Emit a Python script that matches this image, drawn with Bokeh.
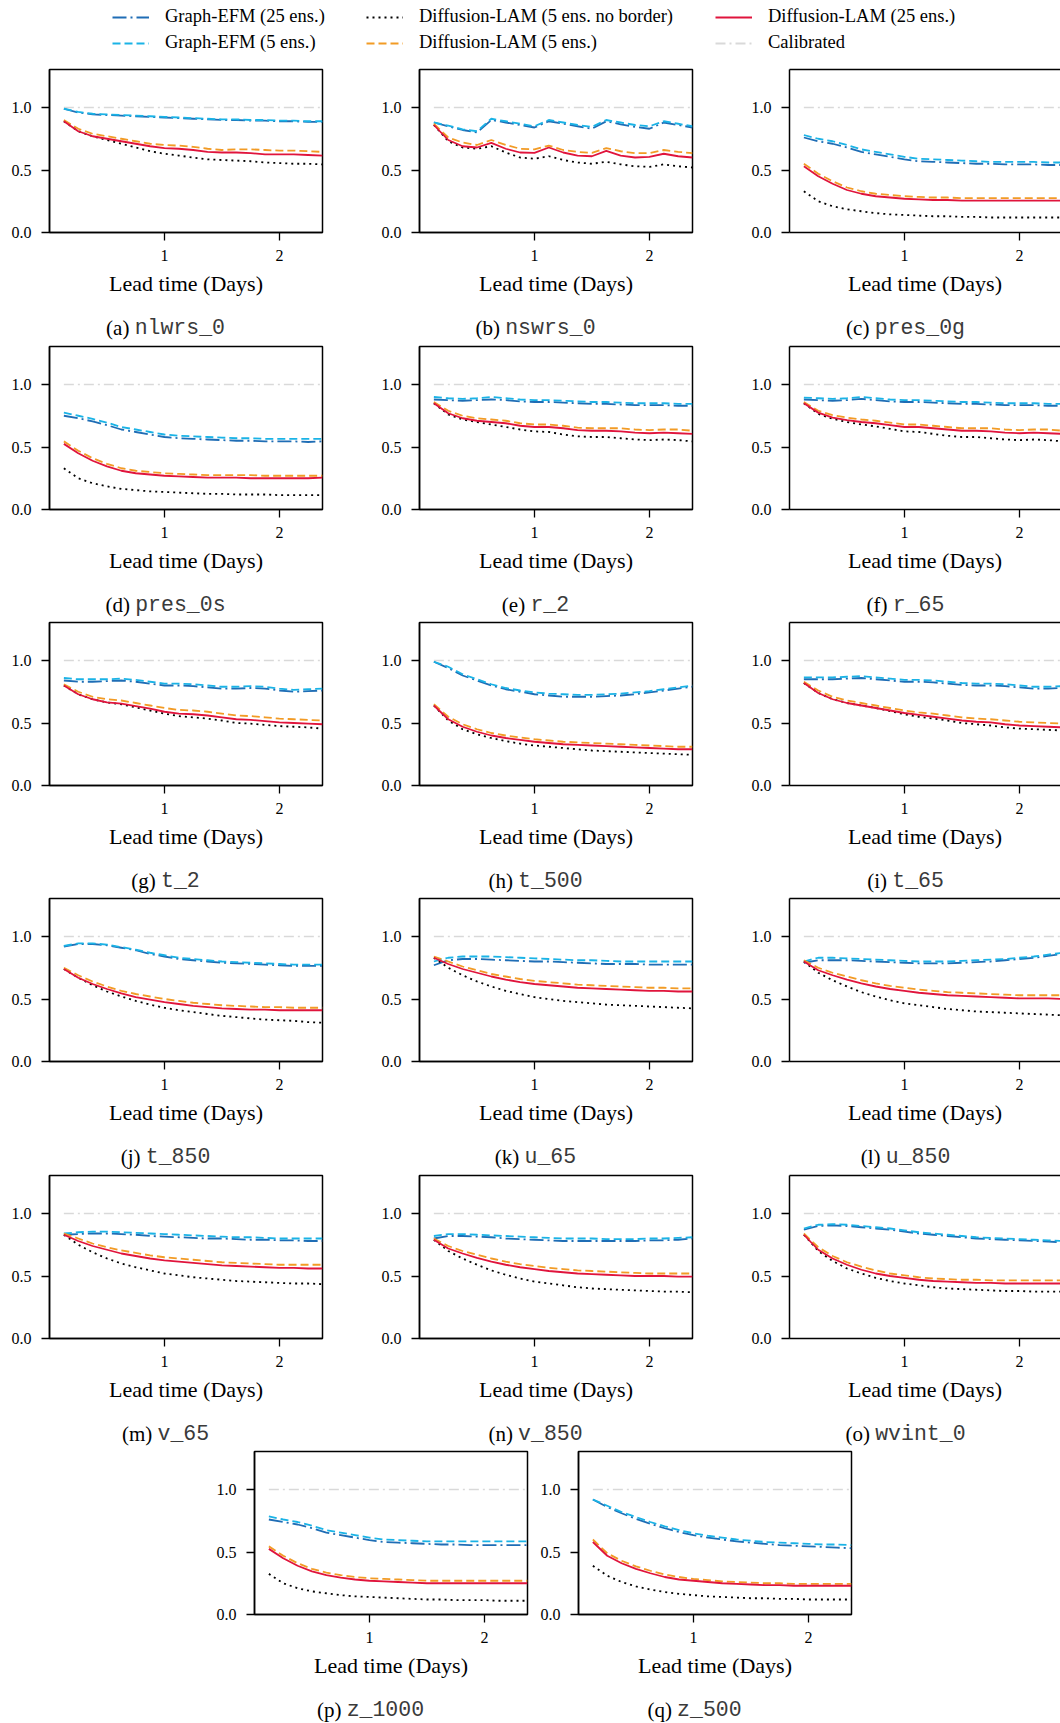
from bokeh.plotting import figure
from bokeh.models import (Range1d, FixedTicker, NumeralTickFormatter, Label,
                          Legend, LegendItem, LinearAxis, Spacer)
from bokeh.layouts import column, row
from bokeh.embed import file_html
from bokeh.resources import INLINE

# ---------------- data ----------------
lead_time_days = [0.125, 0.25, 0.375, 0.5, 0.625, 0.75, 0.875, 1.0, 1.125, 1.25,
                  1.375, 1.5, 1.625, 1.75, 1.875, 2.0, 2.125, 2.25, 2.375]
calibrated = [1.0, 1.0, 1.0, 1.0, 1.0, 1.0, 1.0, 1.0, 1.0, 1.0,
              1.0, 1.0, 1.0, 1.0, 1.0, 1.0, 1.0, 1.0, 1.0]

# (a) nlwrs_0
ge25_nlwrs_0 = [0.99, 0.96, 0.945, 0.94, 0.935, 0.93, 0.925, 0.92, 0.915, 0.91, 0.905, 0.90, 0.90, 0.895, 0.895, 0.89, 0.89, 0.885, 0.885]
ge5_nlwrs_0 = [0.99, 0.965, 0.95, 0.945, 0.94, 0.935, 0.93, 0.925, 0.92, 0.915, 0.91, 0.905, 0.905, 0.90, 0.90, 0.895, 0.895, 0.89, 0.89]
dlnb_nlwrs_0 = [0.89, 0.81, 0.77, 0.74, 0.71, 0.68, 0.65, 0.63, 0.615, 0.60, 0.585, 0.58, 0.575, 0.57, 0.56, 0.555, 0.55, 0.55, 0.545]
dl5_nlwrs_0 = [0.90, 0.83, 0.79, 0.77, 0.75, 0.73, 0.71, 0.70, 0.695, 0.685, 0.67, 0.66, 0.665, 0.665, 0.66, 0.655, 0.655, 0.65, 0.645]
dl25_nlwrs_0 = [0.89, 0.81, 0.77, 0.75, 0.73, 0.71, 0.69, 0.675, 0.67, 0.66, 0.645, 0.64, 0.64, 0.635, 0.625, 0.625, 0.625, 0.62, 0.615]

# (b) nswrs_0
ge25_nswrs_0 = [0.88, 0.85, 0.82, 0.80, 0.90, 0.88, 0.86, 0.84, 0.89, 0.87, 0.85, 0.83, 0.89, 0.865, 0.845, 0.83, 0.88, 0.86, 0.84]
ge5_nswrs_0 = [0.88, 0.855, 0.825, 0.81, 0.91, 0.89, 0.87, 0.85, 0.90, 0.88, 0.86, 0.845, 0.90, 0.88, 0.86, 0.85, 0.89, 0.87, 0.85]
dlnb_nswrs_0 = [0.86, 0.73, 0.68, 0.67, 0.69, 0.64, 0.60, 0.59, 0.61, 0.58, 0.56, 0.55, 0.565, 0.545, 0.53, 0.525, 0.545, 0.53, 0.52]
dl5_nswrs_0 = [0.87, 0.76, 0.72, 0.70, 0.74, 0.70, 0.67, 0.665, 0.695, 0.66, 0.645, 0.637, 0.675, 0.65, 0.635, 0.635, 0.66, 0.645, 0.635]
dl25_nswrs_0 = [0.86, 0.74, 0.69, 0.68, 0.717, 0.67, 0.64, 0.637, 0.68, 0.64, 0.615, 0.61, 0.653, 0.615, 0.60, 0.605, 0.63, 0.61, 0.60]

# (c) pres_0g
ge25_pres_0g = [0.76, 0.73, 0.71, 0.68, 0.645, 0.625, 0.605, 0.585, 0.57, 0.565, 0.56, 0.555, 0.55, 0.55, 0.545, 0.545, 0.545, 0.54, 0.54]
ge5_pres_0g = [0.78, 0.75, 0.73, 0.70, 0.665, 0.645, 0.625, 0.605, 0.59, 0.585, 0.58, 0.575, 0.57, 0.565, 0.565, 0.565, 0.565, 0.56, 0.56]
dlnb_pres_0g = [0.33, 0.25, 0.21, 0.185, 0.17, 0.155, 0.145, 0.14, 0.135, 0.13, 0.13, 0.125, 0.125, 0.12, 0.12, 0.12, 0.12, 0.12, 0.12]
dl5_pres_0g = [0.55, 0.47, 0.41, 0.36, 0.33, 0.31, 0.30, 0.29, 0.285, 0.28, 0.28, 0.275, 0.275, 0.275, 0.275, 0.275, 0.275, 0.275, 0.275]
dl25_pres_0g = [0.53, 0.45, 0.39, 0.34, 0.31, 0.29, 0.28, 0.27, 0.265, 0.26, 0.26, 0.255, 0.255, 0.255, 0.255, 0.255, 0.255, 0.255, 0.255]

# (d) pres_0s
ge25_pres_0s = [0.75, 0.73, 0.705, 0.675, 0.64, 0.62, 0.60, 0.58, 0.57, 0.565, 0.56, 0.555, 0.55, 0.55, 0.545, 0.545, 0.545, 0.54, 0.545]
ge5_pres_0s = [0.775, 0.75, 0.725, 0.695, 0.66, 0.64, 0.62, 0.60, 0.59, 0.585, 0.58, 0.575, 0.57, 0.57, 0.565, 0.565, 0.565, 0.565, 0.565]
dlnb_pres_0s = [0.33, 0.25, 0.21, 0.185, 0.165, 0.155, 0.145, 0.14, 0.135, 0.13, 0.125, 0.125, 0.12, 0.12, 0.12, 0.115, 0.115, 0.115, 0.115]
dl5_pres_0s = [0.545, 0.47, 0.41, 0.365, 0.33, 0.31, 0.30, 0.29, 0.285, 0.28, 0.275, 0.275, 0.275, 0.275, 0.27, 0.27, 0.27, 0.27, 0.27]
dl25_pres_0s = [0.525, 0.45, 0.39, 0.345, 0.31, 0.29, 0.28, 0.27, 0.265, 0.26, 0.255, 0.255, 0.255, 0.25, 0.25, 0.25, 0.25, 0.25, 0.255]

# (e) r_2
ge25_r_2 = [0.88, 0.875, 0.87, 0.875, 0.88, 0.875, 0.865, 0.86, 0.86, 0.855, 0.85, 0.845, 0.845, 0.84, 0.835, 0.835, 0.835, 0.83, 0.83]
ge5_r_2 = [0.90, 0.89, 0.885, 0.89, 0.90, 0.89, 0.88, 0.875, 0.875, 0.87, 0.865, 0.86, 0.86, 0.855, 0.85, 0.85, 0.85, 0.845, 0.845]
dlnb_r_2 = [0.85, 0.76, 0.72, 0.70, 0.68, 0.66, 0.64, 0.625, 0.62, 0.60, 0.585, 0.58, 0.58, 0.57, 0.56, 0.555, 0.56, 0.555, 0.545]
dl5_r_2 = [0.86, 0.79, 0.75, 0.73, 0.72, 0.71, 0.69, 0.68, 0.68, 0.67, 0.655, 0.65, 0.65, 0.65, 0.64, 0.635, 0.64, 0.64, 0.63]
dl25_r_2 = [0.85, 0.77, 0.73, 0.71, 0.70, 0.69, 0.67, 0.66, 0.66, 0.65, 0.635, 0.63, 0.63, 0.625, 0.615, 0.61, 0.615, 0.61, 0.605]

# (f) r_65
ge25_r_65 = [0.88, 0.875, 0.87, 0.875, 0.885, 0.875, 0.865, 0.86, 0.86, 0.855, 0.85, 0.845, 0.845, 0.84, 0.835, 0.835, 0.835, 0.83, 0.83]
ge5_r_65 = [0.895, 0.89, 0.885, 0.89, 0.90, 0.89, 0.88, 0.875, 0.875, 0.87, 0.865, 0.86, 0.86, 0.855, 0.85, 0.85, 0.85, 0.845, 0.845]
dlnb_r_65 = [0.85, 0.765, 0.725, 0.70, 0.68, 0.665, 0.645, 0.625, 0.62, 0.605, 0.59, 0.58, 0.58, 0.57, 0.56, 0.555, 0.56, 0.555, 0.545]
dl5_r_65 = [0.86, 0.79, 0.755, 0.735, 0.72, 0.71, 0.695, 0.68, 0.68, 0.67, 0.66, 0.65, 0.65, 0.65, 0.64, 0.635, 0.64, 0.64, 0.63]
dl25_r_65 = [0.85, 0.775, 0.735, 0.715, 0.70, 0.69, 0.675, 0.66, 0.66, 0.65, 0.64, 0.63, 0.63, 0.625, 0.615, 0.61, 0.615, 0.61, 0.605]

# (g) t_2
ge25_t_2 = [0.84, 0.83, 0.83, 0.835, 0.84, 0.83, 0.815, 0.80, 0.80, 0.795, 0.785, 0.775, 0.775, 0.78, 0.775, 0.76, 0.75, 0.755, 0.76]
ge5_t_2 = [0.86, 0.85, 0.85, 0.85, 0.855, 0.845, 0.83, 0.815, 0.815, 0.81, 0.80, 0.79, 0.79, 0.795, 0.79, 0.775, 0.765, 0.77, 0.775]
dlnb_t_2 = [0.80, 0.73, 0.69, 0.665, 0.65, 0.625, 0.60, 0.575, 0.555, 0.545, 0.535, 0.52, 0.50, 0.495, 0.485, 0.475, 0.47, 0.465, 0.455]
dl5_t_2 = [0.81, 0.75, 0.71, 0.69, 0.68, 0.66, 0.64, 0.62, 0.605, 0.60, 0.59, 0.575, 0.56, 0.555, 0.545, 0.535, 0.53, 0.525, 0.52]
dl25_t_2 = [0.80, 0.73, 0.69, 0.665, 0.655, 0.635, 0.615, 0.59, 0.575, 0.57, 0.56, 0.545, 0.53, 0.525, 0.515, 0.505, 0.50, 0.495, 0.49]

# (h) t_500
ge25_t_500 = [0.99, 0.94, 0.88, 0.84, 0.80, 0.77, 0.75, 0.73, 0.72, 0.71, 0.71, 0.71, 0.715, 0.72, 0.73, 0.745, 0.76, 0.775, 0.79]
ge5_t_500 = [0.99, 0.95, 0.89, 0.85, 0.81, 0.78, 0.76, 0.745, 0.735, 0.73, 0.725, 0.725, 0.73, 0.735, 0.745, 0.755, 0.77, 0.785, 0.80]
dlnb_t_500 = [0.64, 0.52, 0.45, 0.41, 0.38, 0.355, 0.335, 0.32, 0.31, 0.30, 0.29, 0.28, 0.275, 0.27, 0.265, 0.26, 0.255, 0.25, 0.245]
dl5_t_500 = [0.65, 0.55, 0.49, 0.45, 0.42, 0.40, 0.385, 0.37, 0.36, 0.35, 0.345, 0.34, 0.335, 0.33, 0.325, 0.32, 0.315, 0.31, 0.31]
dl25_t_500 = [0.64, 0.53, 0.47, 0.43, 0.40, 0.38, 0.365, 0.35, 0.34, 0.33, 0.325, 0.32, 0.315, 0.31, 0.305, 0.30, 0.295, 0.29, 0.29]

# (i) t_65
ge25_t_65 = [0.85, 0.85, 0.85, 0.855, 0.86, 0.85, 0.84, 0.83, 0.83, 0.825, 0.815, 0.805, 0.80, 0.80, 0.795, 0.785, 0.775, 0.775, 0.78]
ge5_t_65 = [0.865, 0.865, 0.865, 0.87, 0.875, 0.865, 0.855, 0.845, 0.845, 0.84, 0.83, 0.82, 0.815, 0.815, 0.81, 0.80, 0.79, 0.79, 0.795]
dlnb_t_65 = [0.82, 0.74, 0.69, 0.66, 0.64, 0.62, 0.595, 0.57, 0.55, 0.535, 0.52, 0.50, 0.49, 0.48, 0.465, 0.455, 0.45, 0.445, 0.44]
dl5_t_65 = [0.83, 0.76, 0.71, 0.68, 0.66, 0.64, 0.62, 0.60, 0.585, 0.575, 0.56, 0.545, 0.535, 0.53, 0.52, 0.51, 0.505, 0.50, 0.495]
dl25_t_65 = [0.82, 0.74, 0.69, 0.66, 0.64, 0.62, 0.60, 0.58, 0.565, 0.55, 0.535, 0.52, 0.51, 0.505, 0.49, 0.48, 0.475, 0.47, 0.465]

# (j) t_850
ge25_t_850 = [0.92, 0.94, 0.94, 0.93, 0.91, 0.89, 0.86, 0.84, 0.82, 0.81, 0.80, 0.79, 0.785, 0.78, 0.775, 0.77, 0.765, 0.765, 0.765]
ge5_t_850 = [0.925, 0.945, 0.945, 0.935, 0.915, 0.895, 0.87, 0.85, 0.83, 0.82, 0.81, 0.80, 0.795, 0.79, 0.785, 0.78, 0.775, 0.775, 0.775]
dlnb_t_850 = [0.74, 0.67, 0.61, 0.56, 0.52, 0.485, 0.455, 0.43, 0.41, 0.395, 0.38, 0.365, 0.355, 0.345, 0.335, 0.33, 0.325, 0.315, 0.31]
dl5_t_850 = [0.75, 0.69, 0.64, 0.60, 0.565, 0.54, 0.52, 0.50, 0.485, 0.47, 0.46, 0.45, 0.445, 0.44, 0.435, 0.435, 0.43, 0.43, 0.43]
dl25_t_850 = [0.74, 0.67, 0.62, 0.58, 0.545, 0.515, 0.495, 0.475, 0.46, 0.445, 0.435, 0.425, 0.42, 0.415, 0.415, 0.41, 0.41, 0.41, 0.41]

# (k) u_65
ge25_u_65 = [0.77, 0.81, 0.82, 0.82, 0.815, 0.81, 0.805, 0.80, 0.80, 0.795, 0.79, 0.785, 0.78, 0.78, 0.78, 0.775, 0.775, 0.775, 0.775]
ge5_u_65 = [0.80, 0.83, 0.84, 0.84, 0.84, 0.835, 0.83, 0.825, 0.82, 0.815, 0.81, 0.81, 0.805, 0.80, 0.80, 0.80, 0.80, 0.80, 0.80]
dlnb_u_65 = [0.83, 0.75, 0.69, 0.64, 0.60, 0.565, 0.54, 0.515, 0.50, 0.485, 0.475, 0.465, 0.455, 0.45, 0.445, 0.44, 0.435, 0.43, 0.425]
dl5_u_65 = [0.84, 0.80, 0.76, 0.73, 0.70, 0.68, 0.66, 0.645, 0.635, 0.625, 0.615, 0.61, 0.605, 0.60, 0.595, 0.59, 0.59, 0.585, 0.585]
dl25_u_65 = [0.83, 0.78, 0.74, 0.71, 0.68, 0.655, 0.635, 0.62, 0.61, 0.60, 0.59, 0.585, 0.58, 0.575, 0.57, 0.565, 0.565, 0.56, 0.56]

# (l) u_850
ge25_u_850 = [0.79, 0.81, 0.81, 0.81, 0.805, 0.80, 0.795, 0.79, 0.785, 0.785, 0.785, 0.79, 0.795, 0.80, 0.81, 0.82, 0.83, 0.845, 0.86]
ge5_u_850 = [0.80, 0.83, 0.83, 0.825, 0.82, 0.815, 0.81, 0.805, 0.80, 0.80, 0.80, 0.805, 0.81, 0.815, 0.82, 0.83, 0.84, 0.855, 0.87]
dlnb_u_850 = [0.80, 0.71, 0.65, 0.60, 0.555, 0.52, 0.49, 0.465, 0.45, 0.435, 0.42, 0.41, 0.40, 0.395, 0.39, 0.385, 0.38, 0.375, 0.37]
dl5_u_850 = [0.81, 0.75, 0.71, 0.68, 0.65, 0.625, 0.605, 0.59, 0.575, 0.565, 0.555, 0.55, 0.545, 0.54, 0.535, 0.53, 0.53, 0.53, 0.53]
dl25_u_850 = [0.80, 0.73, 0.69, 0.655, 0.625, 0.60, 0.58, 0.565, 0.55, 0.54, 0.53, 0.525, 0.52, 0.515, 0.51, 0.505, 0.505, 0.505, 0.50]

# (m) v_65
ge25_v_65 = [0.83, 0.835, 0.84, 0.84, 0.835, 0.83, 0.82, 0.815, 0.81, 0.805, 0.80, 0.80, 0.795, 0.79, 0.79, 0.785, 0.785, 0.78, 0.78]
ge5_v_65 = [0.84, 0.85, 0.855, 0.855, 0.85, 0.845, 0.84, 0.835, 0.83, 0.825, 0.82, 0.815, 0.81, 0.81, 0.805, 0.80, 0.80, 0.80, 0.80]
dlnb_v_65 = [0.83, 0.75, 0.69, 0.64, 0.60, 0.57, 0.545, 0.52, 0.505, 0.49, 0.48, 0.47, 0.46, 0.455, 0.45, 0.445, 0.44, 0.44, 0.435]
dl5_v_65 = [0.84, 0.80, 0.76, 0.73, 0.705, 0.685, 0.665, 0.65, 0.64, 0.63, 0.62, 0.61, 0.605, 0.60, 0.595, 0.59, 0.59, 0.59, 0.59]
dl25_v_65 = [0.83, 0.78, 0.74, 0.71, 0.68, 0.66, 0.64, 0.625, 0.615, 0.605, 0.595, 0.585, 0.58, 0.575, 0.57, 0.565, 0.565, 0.56, 0.56]

# (n) v_850
ge25_v_850 = [0.80, 0.82, 0.82, 0.815, 0.81, 0.80, 0.795, 0.79, 0.785, 0.78, 0.78, 0.78, 0.78, 0.78, 0.78, 0.785, 0.785, 0.79, 0.80]
ge5_v_850 = [0.82, 0.835, 0.835, 0.83, 0.825, 0.82, 0.815, 0.81, 0.805, 0.80, 0.80, 0.80, 0.795, 0.795, 0.795, 0.80, 0.80, 0.805, 0.81]
dlnb_v_850 = [0.79, 0.70, 0.64, 0.59, 0.545, 0.51, 0.48, 0.455, 0.44, 0.425, 0.41, 0.40, 0.395, 0.39, 0.385, 0.38, 0.375, 0.375, 0.37]
dl5_v_850 = [0.80, 0.74, 0.70, 0.67, 0.64, 0.615, 0.595, 0.58, 0.565, 0.555, 0.545, 0.54, 0.535, 0.53, 0.525, 0.52, 0.52, 0.52, 0.52]
dl25_v_850 = [0.79, 0.72, 0.68, 0.645, 0.615, 0.59, 0.57, 0.555, 0.54, 0.53, 0.52, 0.515, 0.51, 0.505, 0.50, 0.50, 0.50, 0.495, 0.495]

# (o) wvint_0
ge25_wvint_0 = [0.87, 0.90, 0.905, 0.90, 0.89, 0.88, 0.87, 0.855, 0.84, 0.83, 0.82, 0.81, 0.80, 0.795, 0.79, 0.785, 0.78, 0.775, 0.77]
ge5_wvint_0 = [0.88, 0.91, 0.915, 0.91, 0.90, 0.89, 0.88, 0.865, 0.85, 0.84, 0.83, 0.82, 0.81, 0.805, 0.80, 0.795, 0.79, 0.785, 0.78]
dlnb_wvint_0 = [0.83, 0.70, 0.62, 0.56, 0.52, 0.485, 0.46, 0.44, 0.425, 0.41, 0.40, 0.395, 0.39, 0.385, 0.38, 0.38, 0.375, 0.375, 0.375]
dl5_wvint_0 = [0.84, 0.73, 0.66, 0.61, 0.575, 0.545, 0.52, 0.505, 0.49, 0.48, 0.475, 0.47, 0.47, 0.465, 0.465, 0.465, 0.465, 0.465, 0.465]
dl25_wvint_0 = [0.83, 0.71, 0.64, 0.59, 0.55, 0.52, 0.50, 0.485, 0.47, 0.46, 0.455, 0.45, 0.445, 0.445, 0.44, 0.44, 0.44, 0.44, 0.44]

# (p) z_1000
ge25_z_1000 = [0.76, 0.74, 0.72, 0.69, 0.655, 0.635, 0.615, 0.595, 0.58, 0.575, 0.57, 0.565, 0.56, 0.56, 0.555, 0.555, 0.555, 0.555, 0.555]
ge5_z_1000 = [0.785, 0.76, 0.74, 0.71, 0.675, 0.655, 0.635, 0.615, 0.60, 0.595, 0.59, 0.585, 0.585, 0.585, 0.585, 0.585, 0.585, 0.585, 0.585]
dlnb_z_1000 = [0.325, 0.25, 0.21, 0.185, 0.17, 0.155, 0.145, 0.14, 0.135, 0.13, 0.125, 0.12, 0.12, 0.115, 0.115, 0.115, 0.11, 0.11, 0.11]
dl5_z_1000 = [0.545, 0.47, 0.41, 0.365, 0.335, 0.315, 0.30, 0.29, 0.285, 0.28, 0.275, 0.27, 0.27, 0.27, 0.27, 0.27, 0.27, 0.27, 0.27]
dl25_z_1000 = [0.525, 0.45, 0.39, 0.345, 0.315, 0.295, 0.28, 0.27, 0.265, 0.26, 0.255, 0.25, 0.25, 0.25, 0.25, 0.25, 0.25, 0.25, 0.25]

# (q) z_500
ge25_z_500 = [0.92, 0.86, 0.81, 0.765, 0.725, 0.69, 0.66, 0.635, 0.615, 0.60, 0.585, 0.575, 0.565, 0.555, 0.55, 0.545, 0.54, 0.535, 0.53]
ge5_z_500 = [0.92, 0.87, 0.82, 0.78, 0.74, 0.705, 0.675, 0.65, 0.63, 0.615, 0.60, 0.59, 0.58, 0.575, 0.57, 0.565, 0.56, 0.56, 0.555]
dlnb_z_500 = [0.39, 0.31, 0.26, 0.225, 0.20, 0.18, 0.165, 0.155, 0.145, 0.14, 0.135, 0.13, 0.13, 0.125, 0.125, 0.12, 0.12, 0.12, 0.12]
dl5_z_500 = [0.60, 0.49, 0.43, 0.385, 0.35, 0.32, 0.30, 0.285, 0.275, 0.265, 0.26, 0.255, 0.25, 0.25, 0.245, 0.245, 0.245, 0.245, 0.245]
dl25_z_500 = [0.58, 0.47, 0.41, 0.365, 0.33, 0.30, 0.28, 0.27, 0.26, 0.25, 0.245, 0.24, 0.235, 0.235, 0.23, 0.23, 0.23, 0.23, 0.23]

panel_letters = ["a", "b", "c", "d", "e", "f", "g", "h", "i", "j", "k", "l", "m", "n", "o", "p", "q"]
panel_vars = ["nlwrs_0", "nswrs_0", "pres_0g", "pres_0s", "r_2", "r_65", "t_2", "t_500",
              "t_65", "t_850", "u_65", "u_850", "v_65", "v_850", "wvint_0", "z_1000", "z_500"]
panel_series = [
    (ge25_nlwrs_0, ge5_nlwrs_0, dlnb_nlwrs_0, dl5_nlwrs_0, dl25_nlwrs_0),
    (ge25_nswrs_0, ge5_nswrs_0, dlnb_nswrs_0, dl5_nswrs_0, dl25_nswrs_0),
    (ge25_pres_0g, ge5_pres_0g, dlnb_pres_0g, dl5_pres_0g, dl25_pres_0g),
    (ge25_pres_0s, ge5_pres_0s, dlnb_pres_0s, dl5_pres_0s, dl25_pres_0s),
    (ge25_r_2, ge5_r_2, dlnb_r_2, dl5_r_2, dl25_r_2),
    (ge25_r_65, ge5_r_65, dlnb_r_65, dl5_r_65, dl25_r_65),
    (ge25_t_2, ge5_t_2, dlnb_t_2, dl5_t_2, dl25_t_2),
    (ge25_t_500, ge5_t_500, dlnb_t_500, dl5_t_500, dl25_t_500),
    (ge25_t_65, ge5_t_65, dlnb_t_65, dl5_t_65, dl25_t_65),
    (ge25_t_850, ge5_t_850, dlnb_t_850, dl5_t_850, dl25_t_850),
    (ge25_u_65, ge5_u_65, dlnb_u_65, dl5_u_65, dl25_u_65),
    (ge25_u_850, ge5_u_850, dlnb_u_850, dl5_u_850, dl25_u_850),
    (ge25_v_65, ge5_v_65, dlnb_v_65, dl5_v_65, dl25_v_65),
    (ge25_v_850, ge5_v_850, dlnb_v_850, dl5_v_850, dl25_v_850),
    (ge25_wvint_0, ge5_wvint_0, dlnb_wvint_0, dl5_wvint_0, dl25_wvint_0),
    (ge25_z_1000, ge5_z_1000, dlnb_z_1000, dl5_z_1000, dl25_z_1000),
    (ge25_z_500, ge5_z_500, dlnb_z_500, dl5_z_500, dl25_z_500),
]

series_labels = ["Graph-EFM (25 ens.)", "Graph-EFM (5 ens.)", "Diffusion-LAM (5 ens. no border)",
                 "Diffusion-LAM (5 ens.)", "Diffusion-LAM (25 ens.)"]
calibrated_label = "Calibrated"
y_ticks = [0.0, 0.5, 1.0]
x_ticks = [1, 2]

# ---------------- styles ----------------
SERIF = "Liberation Serif"
MONO = "Liberation Mono"
series_colors = ["#1f6db5", "#1ab3e6", "#000000", "#f29b25", "#e0143c"]
series_dash = ["14 4 2 4", "8 4", "2 4", "8 4", "solid"]
cal_color = "#d9d9d9"
cal_dash = "10 4 2 4"
LW = 1.8

FRAME_W, FRAME_H = 273, 163
X_END = 2.375
Y_END = 1.304
TOP_B, BOT_B = 2, 66
PANEL_H = TOP_B + FRAME_H + BOT_B
PAGE_W = 1060

TIMES_W = {"(": .333, ")": .333, " ": .25, "a": .444, "b": .5, "c": .444, "d": .5, "e": .444,
           "f": .333, "g": .5, "h": .5, "i": .278, "j": .278, "k": .5, "l": .278, "m": .778,
           "n": .5, "o": .5, "p": .5, "q": .5}
CAP_SERIF_FS = 21
CAP_MONO_FS = 21.5


def make_panel(idx, width, border_left, border_right, last_col=False):
    frame_w = width - border_left - border_right
    x_end = X_END * frame_w / FRAME_W
    p = figure(width=width, height=PANEL_H, x_range=Range1d(0, x_end), y_range=Range1d(0, Y_END),
               output_backend="svg", toolbar_location=None,
               min_border_left=border_left, min_border_right=border_right,
               min_border_top=TOP_B, min_border_bottom=BOT_B,
               x_axis_label="Lead time (Days)")
    p.background_fill_color = "white"
    p.border_fill_color = "white"
    p.xgrid.visible = False
    p.ygrid.visible = False
    for ax in (p.xaxis[0], p.yaxis[0]):
        ax.axis_line_color = "black"
        ax.axis_line_width = 1.5
        ax.major_tick_line_color = "black"
        ax.major_tick_line_width = 1.3
        ax.major_tick_out = 8
        ax.major_tick_in = 0
        ax.minor_tick_line_color = None
        ax.major_label_text_font = SERIF
        ax.major_label_text_font_size = "16px"
        ax.major_label_text_color = "black"
    xa, ya = p.xaxis[0], p.yaxis[0]
    xa.ticker = FixedTicker(ticks=x_ticks)
    ya.ticker = FixedTicker(ticks=y_ticks)
    ya.formatter = NumeralTickFormatter(format="0.0")
    xa.major_label_standoff = 9
    ya.major_label_standoff = 10
    xa.axis_label_text_font = SERIF
    xa.axis_label_text_font_style = "normal"
    xa.axis_label_text_font_size = "22px"
    xa.axis_label_text_color = "black"
    xa.axis_label_standoff = 7
    if last_col:
        # the reference box runs past the page edge: no right border line
        p.outline_line_color = None
        top = LinearAxis(ticker=FixedTicker(ticks=[]), major_label_text_font_size="0px",
                         major_tick_line_color=None, minor_tick_line_color=None,
                         major_tick_out=0, major_tick_in=0, major_label_standoff=0,
                         axis_line_color="black", axis_line_width=1.5)
        p.add_layout(top, "above")
    else:
        p.outline_line_color = "black"
        p.outline_line_width = 1.5
        p.outline_line_alpha = 1.0

    p.line(lead_time_days, calibrated, line_color=cal_color, line_dash=cal_dash, line_width=1.5)
    for vals, col, dash in zip(panel_series[idx], series_colors, series_dash):
        p.line(lead_time_days, vals, line_color=col, line_dash=dash, line_width=LW)
    return p


def caption_strip(items, height, mid_y):
    """items: list of (panel index, caption centre x in px from page left)."""
    s = figure(width=PAGE_W, height=height, x_range=Range1d(0, 1), y_range=Range1d(0, 1),
               x_axis_type=None, y_axis_type=None, output_backend="svg",
               toolbar_location=None, min_border=0, outline_line_color=None)
    s.xgrid.visible = False
    s.ygrid.visible = False
    for idx, cx in items:
        letter, var = panel_letters[idx], panel_vars[idx]
        lead = "(%s) " % letter
        w_serif = sum(TIMES_W.get(ch, .5) for ch in lead) * CAP_SERIF_FS
        w_mono = 0.6 * CAP_MONO_FS * len(var)
        x0 = cx - (w_serif + w_mono) / 2
        s.add_layout(Label(x=x0, y=mid_y, x_units="screen", y_units="screen", text="(%s)" % letter,
                           text_font=SERIF, text_font_size="%gpx" % CAP_SERIF_FS,
                           text_baseline="middle", text_align="left", text_color="black"))
        s.add_layout(Label(x=x0 + w_serif, y=mid_y, x_units="screen", y_units="screen", text=var,
                           text_font=MONO, text_font_size="%gpx" % CAP_MONO_FS,
                           text_baseline="middle", text_align="left", text_color="#3a3a3a"))
    return s


# ---------------- legend strip ----------------
LEG_H = 69 - TOP_B
lf = figure(width=PAGE_W, height=LEG_H, x_range=Range1d(10, 11), y_range=Range1d(0, 1),
            x_axis_type=None, y_axis_type=None, output_backend="svg", toolbar_location=None,
            min_border=0, outline_line_color=None)
lf.xgrid.visible = False
lf.ygrid.visible = False
leg_renderers = []
for lab, col, dash, vals in zip(series_labels, series_colors, series_dash, panel_series[0]):
    # proxies: their data lie outside this strip's x-range, only the legend glyph shows
    leg_renderers.append((lab, lf.line(lead_time_days, vals, line_color=col, line_dash=dash, line_width=2)))
leg_renderers.append((calibrated_label, lf.line(lead_time_days, calibrated, line_color=cal_color,
                                                line_dash=cal_dash, line_width=2)))
row1_y, row2_y = LEG_H - 27, LEG_H - 53
leg_pos = [(112, row1_y), (112, row2_y), (366, row1_y), (366, row2_y), (715, row1_y), (715, row2_y)]
for (lab, r), loc in zip(leg_renderers, leg_pos):
    lg = Legend(items=[LegendItem(label=lab, renderers=[r])], location=loc, padding=0, margin=0,
                border_line_color=None, background_fill_alpha=0, glyph_width=37, glyph_height=20,
                label_height=20, label_standoff=16, label_text_font=SERIF,
                label_text_font_size="18.5px", label_text_color="black", spacing=0)
    lf.add_layout(lg)

# ---------------- grid of panels ----------------
row_pitch = [277, 276, 276, 277, 276]
col_centres = [49 + 116, 419 + 116, 789 + 116]
CAP_FROM_STRIP_TOP = 95 - BOT_B     # caption centre sits 95 px under the frame bottom
rows = [lf]
for r_i in range(5):
    figs = [make_panel(r_i * 3 + 0, 378, 49, 56),
            make_panel(r_i * 3 + 1, 370, 41, 56),
            make_panel(r_i * 3 + 2, 312, 41, 0, last_col=True)]
    rows.append(row(*figs, spacing=0))
    sh = row_pitch[r_i] - PANEL_H
    rows.append(caption_strip([(r_i * 3 + k, col_centres[k]) for k in range(3)], sh,
                              sh - CAP_FROM_STRIP_TOP))
pq = [Spacer(width=213, height=PANEL_H),
      make_panel(15, 324, 41, 10),
      make_panel(16, 324, 41, 10)]
rows.append(row(*pq, spacing=0))
last_sh = 1723 - LEG_H - sum(row_pitch) - PANEL_H
rows.append(caption_strip([(15, 254 + 116), (16, 578 + 116)], last_sh, last_sh - CAP_FROM_STRIP_TOP))
layout = column(*rows, spacing=0)

open("out.html", "w").write(file_html(layout, INLINE, title="Calibration"))
